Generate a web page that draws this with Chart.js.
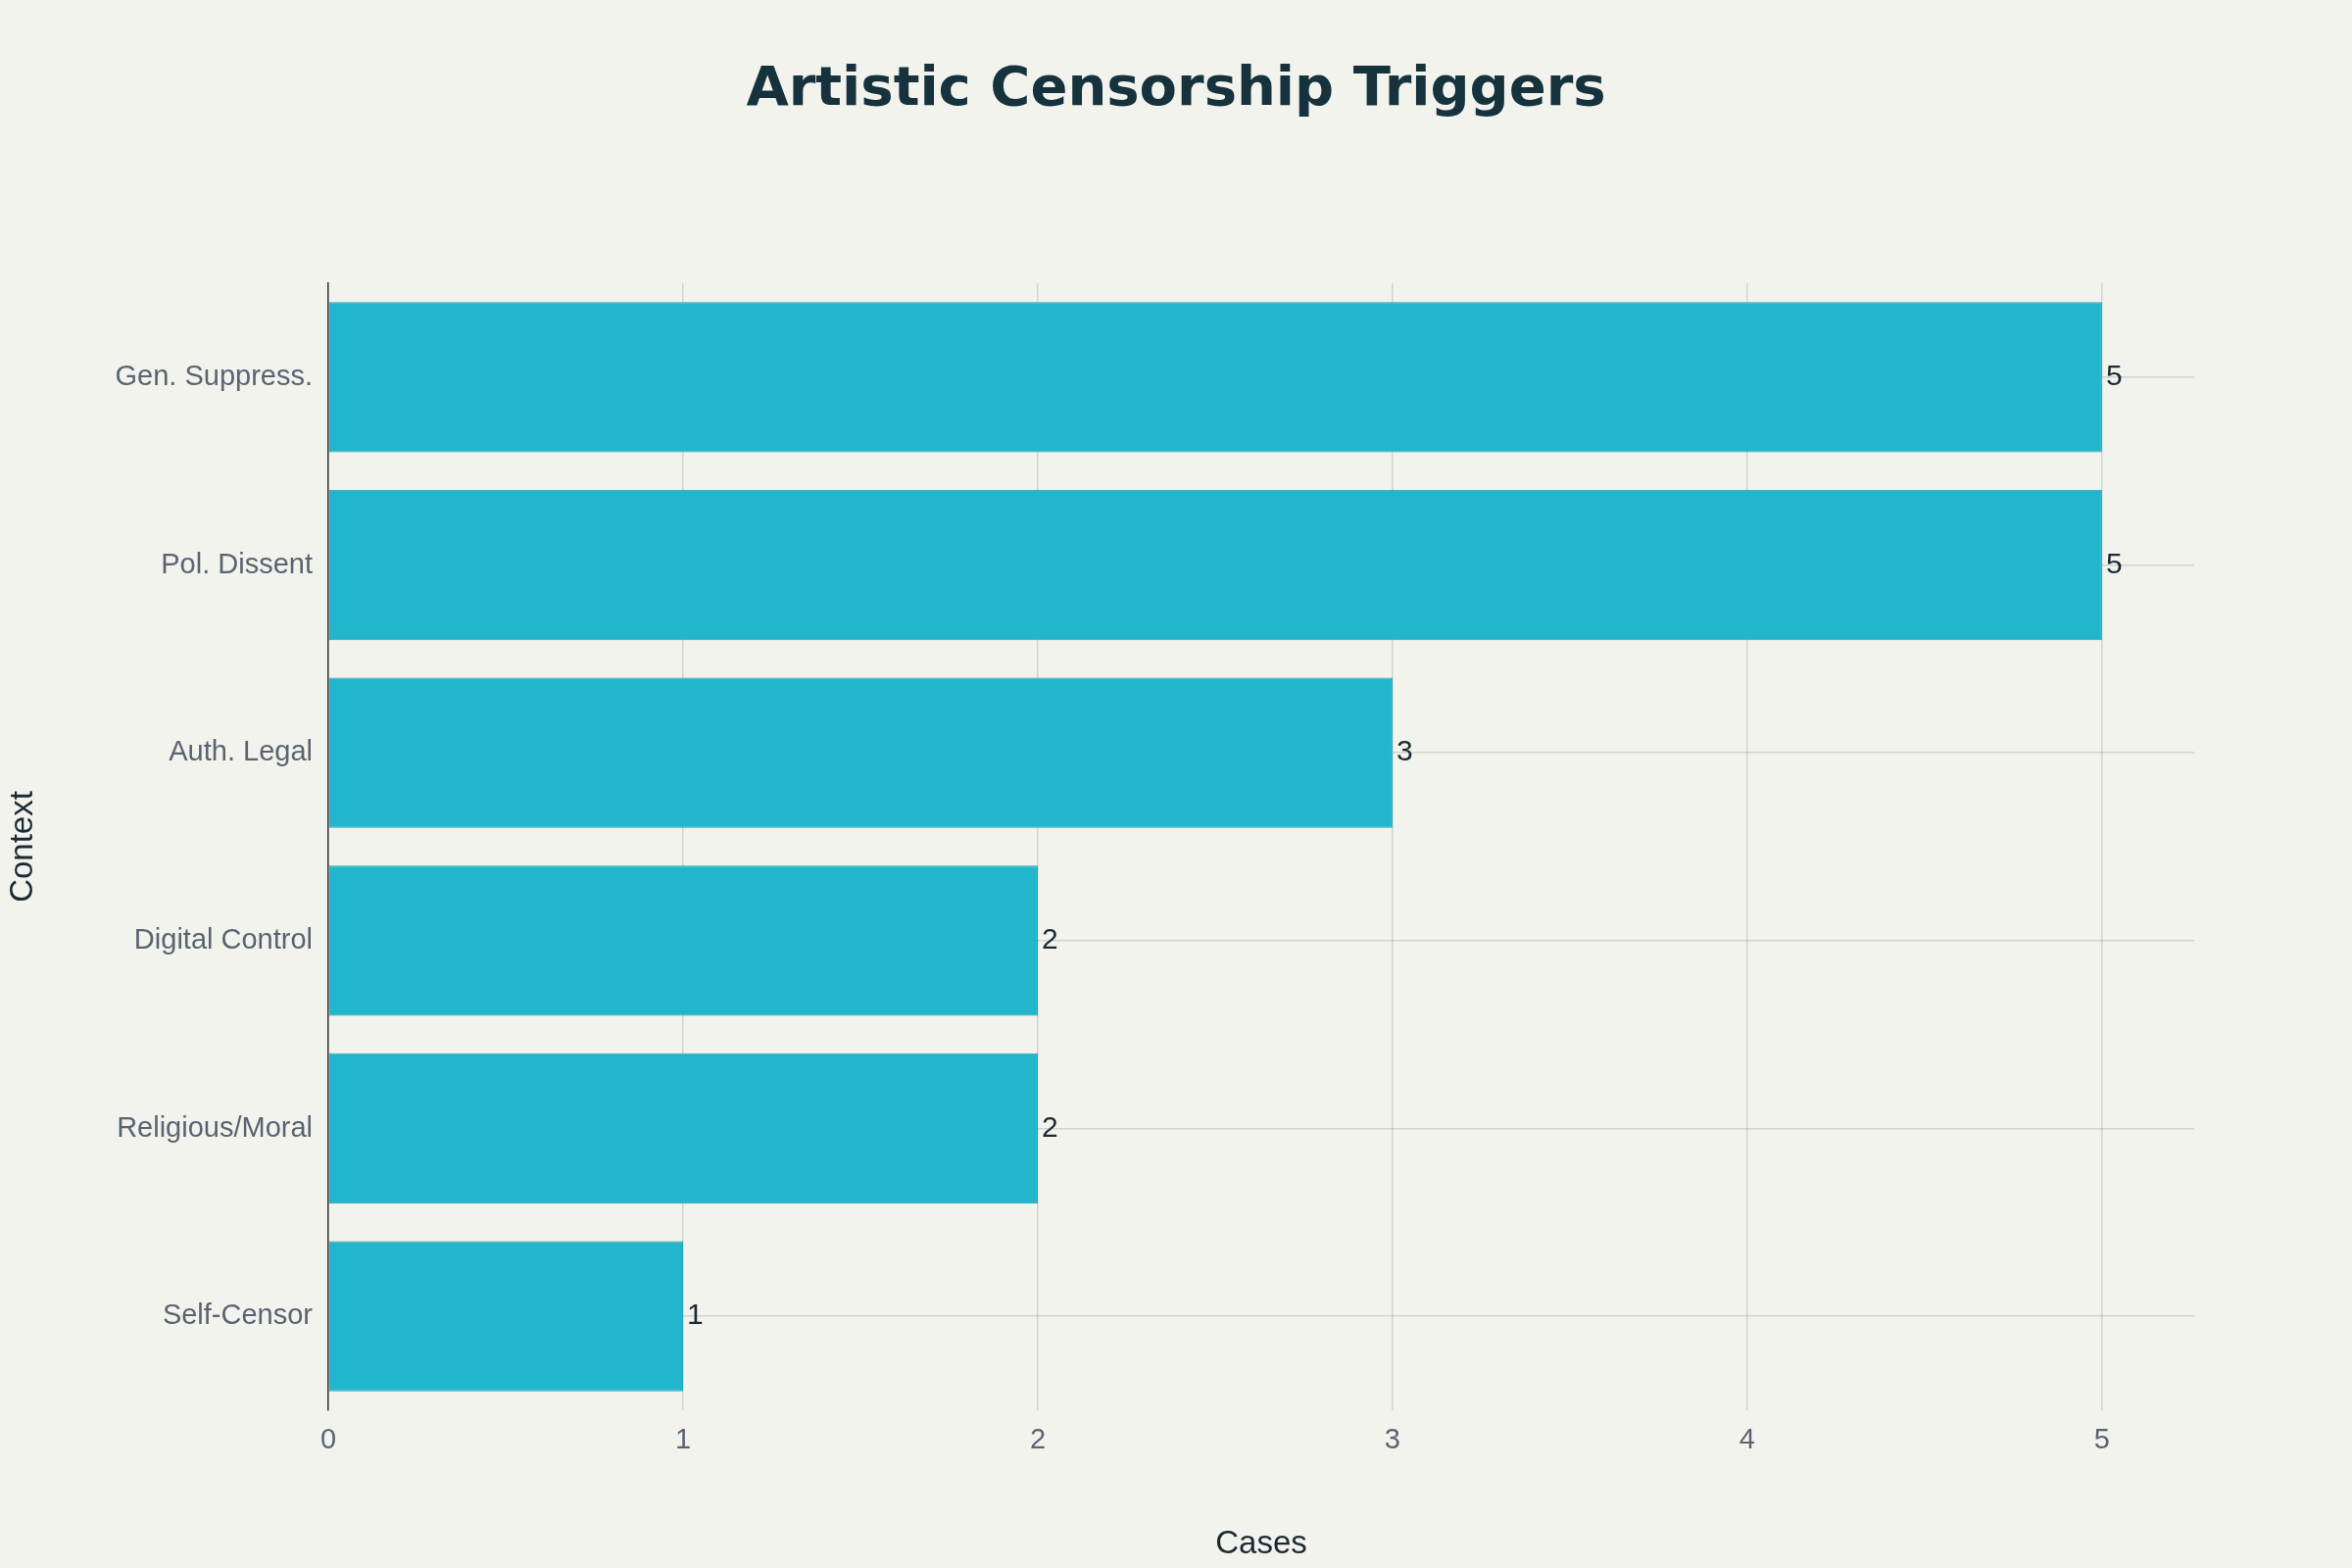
<!DOCTYPE html>
<html>
<head>
<meta charset="utf-8">
<script src="https://cdn.jsdelivr.net/npm/chart.js@4"></script>
<style>
  html, body { margin: 0; padding: 0; background: #f3f3ee; }
  #wrap { width: 2400px; height: 1600px; }
</style>
</head>
<body>
<div id="wrap"><canvas id="chart" width="2400" height="1600"></canvas></div>
<script>
// Data
const categories = ["Gen. Suppress.", "Pol. Dissent", "Auth. Legal", "Digital Control", "Religious/Moral", "Self-Censor"];
const cases = [5, 5, 3, 2, 2, 1];
const xTicks = [0, 1, 2, 3, 4, 5];

const FONT = "'Liberation Sans', Arial, sans-serif";

// Title and bar value labels
const extras = {
	id: "extras",
	afterDatasetsDraw(chart) {
		const ctx = chart.ctx;
		ctx.save();
		ctx.fillStyle = "#1b2a33";
		ctx.font = "30px " + FONT;
		ctx.textAlign = "left";
		ctx.textBaseline = "middle";
		chart.getDatasetMeta(0).data.forEach((bar, i) => {
			ctx.fillText(String(cases[i]), bar.x + 4, bar.y);
		});
		ctx.fillStyle = "#15323d";
		ctx.font = "bold 56px 'DejaVu Sans', " + FONT;
		ctx.textAlign = "center";
		ctx.fillText("Artistic Censorship Triggers", 1200, 92);
		ctx.restore();
	},
};

new Chart(document.getElementById("chart"), {
	type: "bar",
	data: {
		labels: categories,
		datasets: [
			{
				data: cases,
				backgroundColor: "#21b6cb",
				borderColor: "#1a9fb3",
				borderWidth: 1,
				borderSkipped: false,
				categoryPercentage: 0.8,
				barPercentage: 1,
			},
		],
	},
	options: {
		indexAxis: "y",
		responsive: false,
		devicePixelRatio: 1,
		animation: false,
		layout: { padding: { top: 289, right: 161, left: 0, bottom: 0 } },
		plugins: { legend: { display: false }, tooltip: { enabled: false } },
		scales: {
			x: {
				min: 0,
				max: 5.26,
				afterBuildTicks: (s) => { s.ticks = xTicks.map((v) => ({ value: v })); },
				afterFit: (s) => { s.height = 161; },
				grid: { color: "rgba(150,150,150,0.35)", lineWidth: 1.5, drawTicks: false },
				border: { display: false },
				ticks: { color: "#5a6470", font: { size: 29, family: FONT }, padding: 14 },
				title: { display: true, text: "Cases", color: "#1b2a33", font: { size: 33, family: FONT }, padding: { top: 34 } },
			},
			y: {
				afterFit: (s) => { s.width = 335; },
				grid: { color: "rgba(150,150,150,0.35)", lineWidth: 1.5, drawTicks: false, offset: false },
				border: { display: true, color: "#333", width: 1.5 },
				ticks: { color: "#5a6470", font: { size: 29, family: FONT }, padding: 16 },
				title: { display: true, text: "Context", color: "#1b2a33", font: { size: 33, family: FONT }, padding: { bottom: 8 } },
			},
		},
	},
	plugins: [extras],
});
</script>
</body>
</html>
